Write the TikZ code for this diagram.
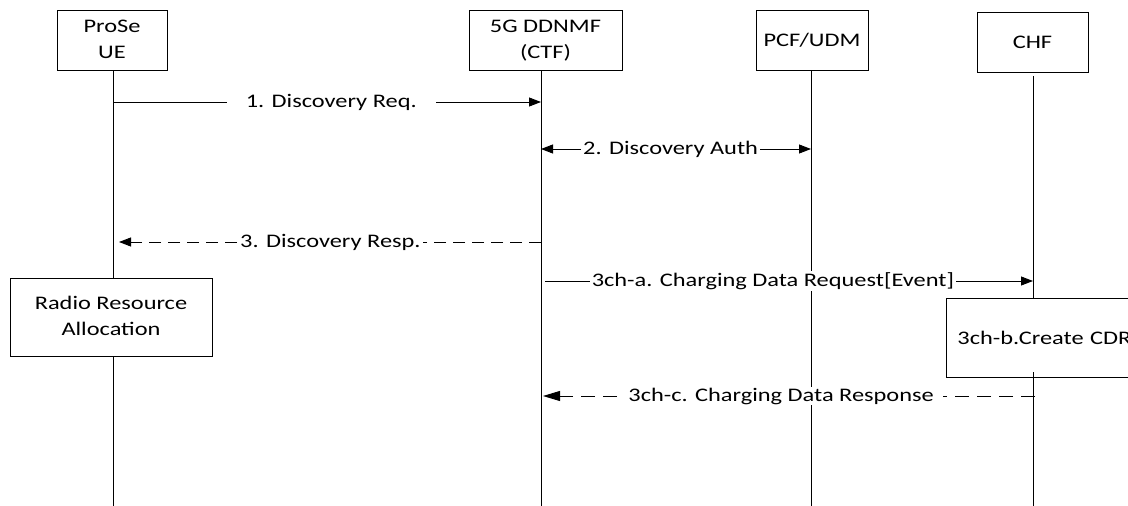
\documentclass[tikz,border=0pt]{standalone}
\usepackage{fontspec}
\setmainfont{Carlito}[FakeStretch=1.27]
\usetikzlibrary{arrows.meta}
\newcommand{\twoline}[3]{\raisebox{#3}{\begin{tabular}{@{}c@{}}#1\\#2\end{tabular}}}
\tikzset{
  txt/.style={font=\fontsize{19.2}{26}\selectfont},
  box/.style={txt,draw,line width=0.9pt,fill=white,inner sep=0pt,align=center},
  life/.style={line width=0.9pt},
  msg/.style={line width=0.9pt,-{Triangle[length=12pt,width=9pt]}},
  dmsg/.style={msg,dash pattern=on 12pt off 7pt},
  lbl/.style={txt,fill=white,inner ysep=1pt,inner xsep=#1},
  lbl/.default=3pt
}
\begin{document}
\begin{tikzpicture}[x=1pt,y=-1pt]
\useasboundingbox (0,0) rectangle (1128,506);
% participants
\node[box,minimum width=110pt,minimum height=60pt] (ue) at (112,40) {\twoline{ProSe}{UE}{-3pt}};
\node[box,minimum width=153pt,minimum height=60pt] (dd) at (545.5,40) {\twoline{5G DDNMF}{(CTF)}{-1pt}};
\node[box,minimum width=112pt,minimum height=60pt] (pcf) at (812,40) {PCF/UDM};
\node[box,minimum width=111pt,minimum height=60pt] (chf) at (1032.5,42) {CHF};
% lifeline anchors
\coordinate (ueT) at (113,70);   \coordinate (ueB) at (113,506);
\coordinate (ddT) at (541,70);   \coordinate (ddB) at (541,506);
\coordinate (pcT) at (811,70);   \coordinate (pcB) at (811,506);
\coordinate (chT) at (1033,76);  \coordinate (chM) at (1033,372); \coordinate (chB) at (1033,506);
\draw[life] (ueT) -- (ueB);
\draw[life] (ddT) -- (ddB);
\draw[life] (pcT) -- (pcB);
\draw[life] (chT) -- (chB);
% process boxes
\node[box,minimum width=202pt,minimum height=78pt] (rra) at (111,317) {\twoline{Radio Resource}{Allocation}{-2pt}};
\node[box,anchor=west,minimum height=79pt,text width=232pt,inner xsep=11pt,align=left] (cdr) at (946,337.5) {3ch-b.Create CDR};
\draw[life] (chM) -- (chB);
% messages
\coordinate (m1a) at (113,102);  \coordinate (m1b) at (541,102);
\draw[msg] (m1a) -- node[lbl=19pt,pos=0.51]{1. Discovery Req.} (m1b);
\coordinate (m2a) at (541,149);  \coordinate (m2b) at (811,149);
\draw[msg,{Triangle[length=12pt,width=9pt]}-{Triangle[length=12pt,width=9pt]}] (m2a) -- node[lbl=2pt,pos=0.48]{2. Discovery Auth} (m2b);
\coordinate (m3a) at (541,242);  \coordinate (m3b) at (119,242);
\draw[dmsg] (m3a) -- node[lbl=2pt,pos=0.499]{3. Discovery Resp.} (m3b);
\coordinate (m4a) at (545,281);  \coordinate (m4b) at (1033,281);
\draw[msg] (m4a) -- node[lbl=2pt,pos=0.467]{3ch-a. Charging Data Request[Event]} (m4b);
\coordinate (m5a) at (1035,396); \coordinate (m5b) at (543,396);
\draw[msg,dash pattern=on 14pt off 8pt,-{Triangle[length=17pt,width=10pt]}] (m5a) -- node[lbl=9pt,pos=0.516]{3ch-c. Charging Data Response} (m5b);
\end{tikzpicture}
\end{document}
